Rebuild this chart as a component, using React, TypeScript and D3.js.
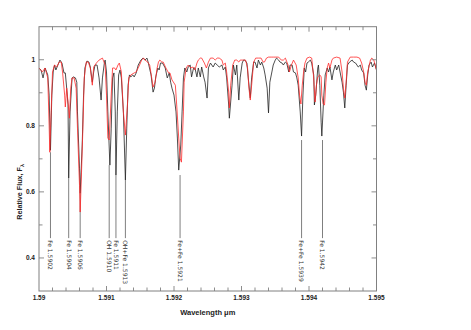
import React from 'react';
import * as d3 from 'd3';

// observed spectrum (black), [wavelength um, relative flux]
const observed: [number, number][] = [
  [1.59000, 0.974], [1.59003, 0.969], [1.59006, 0.945], [1.59009, 0.975], [1.59013, 0.954],
  [1.59015, 0.893], [1.59017, 0.726], [1.59019, 0.893], [1.59021, 0.963], [1.59023, 0.984],
  [1.59025, 0.969], [1.59028, 0.984], [1.59031, 0.999], [1.59034, 0.990], [1.59037, 0.960],
  [1.59039, 0.960], [1.59041, 0.914], [1.59043, 0.863], [1.59044, 0.642], [1.59046, 0.842],
  [1.59049, 0.945], [1.59051, 0.948], [1.59054, 0.945], [1.59056, 0.932], [1.59057, 0.842],
  [1.59060, 0.672], [1.59061, 0.596], [1.59064, 0.742], [1.59066, 0.893], [1.59068, 0.975],
  [1.59071, 0.996], [1.59074, 0.993], [1.59076, 0.978], [1.59079, 0.932], [1.59081, 0.963],
  [1.59083, 0.984], [1.59086, 0.984], [1.59089, 0.945], [1.59092, 0.878], [1.59094, 0.945],
  [1.59097, 0.993], [1.59098, 0.999], [1.59100, 0.963], [1.59102, 0.842], [1.59105, 0.681],
  [1.59107, 0.793], [1.59109, 0.945], [1.59111, 0.960], [1.59113, 0.842], [1.59114, 0.651],
  [1.59116, 0.842], [1.59118, 0.954], [1.59120, 0.969], [1.59122, 0.945], [1.59125, 0.842],
  [1.59128, 0.636], [1.59130, 0.793], [1.59132, 0.923], [1.59134, 0.954], [1.59136, 0.948],
  [1.59139, 0.954], [1.59141, 0.948], [1.59144, 0.960], [1.59147, 0.984], [1.59151, 0.999],
  [1.59154, 1.005], [1.59157, 0.999], [1.59160, 1.005], [1.59162, 0.990], [1.59166, 0.954],
  [1.59169, 0.902], [1.59171, 0.914], [1.59173, 0.948], [1.59176, 0.975], [1.59178, 0.969],
  [1.59180, 0.990], [1.59183, 0.990], [1.59187, 0.975], [1.59190, 0.945], [1.59193, 0.960],
  [1.59195, 0.932], [1.59197, 0.914], [1.59200, 0.893], [1.59203, 0.842], [1.59205, 0.763],
  [1.59207, 0.666], [1.59210, 0.742], [1.59212, 0.842], [1.59214, 0.945], [1.59216, 0.975],
  [1.59219, 0.963], [1.59221, 0.978], [1.59224, 0.984], [1.59226, 0.948], [1.59229, 0.975],
  [1.59231, 0.975], [1.59234, 0.948], [1.59236, 0.975], [1.59239, 0.948], [1.59241, 0.978],
  [1.59244, 0.948], [1.59246, 0.932], [1.59249, 0.884], [1.59251, 0.975], [1.59254, 0.990],
  [1.59256, 0.984], [1.59258, 0.978], [1.59261, 0.990], [1.59264, 0.984], [1.59267, 0.978],
  [1.59271, 0.984], [1.59273, 0.969], [1.59276, 0.978], [1.59278, 0.945], [1.59281, 0.863],
  [1.59282, 0.823], [1.59286, 0.923], [1.59288, 0.984], [1.59291, 0.954], [1.59293, 0.984],
  [1.59296, 0.878], [1.59298, 0.945], [1.59301, 0.990], [1.59303, 0.999], [1.59305, 0.999],
  [1.59308, 0.990], [1.59310, 0.945], [1.59313, 0.884], [1.59315, 0.945], [1.59318, 0.993],
  [1.59320, 0.993], [1.59323, 0.975], [1.59325, 0.999], [1.59328, 0.984], [1.59330, 0.993],
  [1.59333, 0.975], [1.59335, 0.954], [1.59338, 0.914], [1.59340, 0.839], [1.59342, 0.932],
  [1.59345, 0.963], [1.59347, 0.984], [1.59350, 0.999], [1.59352, 1.005], [1.59355, 0.999],
  [1.59357, 0.993], [1.59360, 0.990], [1.59362, 0.984], [1.59365, 0.993], [1.59367, 0.990],
  [1.59370, 0.963], [1.59372, 0.984], [1.59375, 0.984], [1.59377, 0.963], [1.59380, 0.960],
  [1.59382, 0.945], [1.59384, 0.923], [1.59387, 0.842], [1.59389, 0.769], [1.59391, 0.893],
  [1.59393, 0.975], [1.59395, 0.963], [1.59397, 0.990], [1.59399, 0.993], [1.59402, 0.999],
  [1.59404, 0.990], [1.59407, 0.954], [1.59408, 0.863], [1.59410, 0.893], [1.59413, 0.975],
  [1.59414, 0.984], [1.59416, 0.923], [1.59418, 0.811], [1.59419, 0.769], [1.59422, 0.893],
  [1.59424, 0.954], [1.59427, 0.975], [1.59429, 0.963], [1.59431, 0.978], [1.59434, 0.939],
  [1.59436, 0.963], [1.59439, 0.984], [1.59441, 0.969], [1.59444, 0.984], [1.59446, 0.963],
  [1.59449, 0.932], [1.59451, 0.902], [1.59453, 0.854], [1.59455, 0.923], [1.59457, 0.984],
  [1.59460, 0.993], [1.59464, 0.999], [1.59466, 0.993], [1.59469, 0.990], [1.59471, 0.984],
  [1.59473, 0.978], [1.59476, 0.984], [1.59478, 0.969], [1.59481, 0.960], [1.59483, 0.923],
  [1.59485, 0.908], [1.59487, 0.954], [1.59489, 0.984], [1.59492, 0.993], [1.59494, 0.978],
  [1.59497, 0.990], [1.59500, 0.969],
];

// synthetic spectrum (red)
const synthetic: [number, number][] = [
  [1.59000, 0.975], [1.59005, 0.963], [1.59009, 0.975], [1.59013, 0.945], [1.59015, 0.802],
  [1.59016, 0.720], [1.59018, 0.842], [1.59020, 0.963], [1.59023, 0.984], [1.59026, 0.978],
  [1.59030, 0.993], [1.59033, 0.993], [1.59035, 0.960], [1.59038, 0.893], [1.59039, 0.857],
  [1.59041, 0.914], [1.59043, 0.872], [1.59045, 0.823], [1.59047, 0.914], [1.59049, 0.945],
  [1.59052, 0.945], [1.59055, 0.914], [1.59057, 0.793], [1.59060, 0.620], [1.59061, 0.539],
  [1.59063, 0.660], [1.59065, 0.793], [1.59067, 0.945], [1.59070, 0.993], [1.59073, 0.993],
  [1.59076, 0.975], [1.59079, 0.923], [1.59081, 0.978], [1.59085, 0.990], [1.59089, 0.999],
  [1.59094, 1.005], [1.59098, 0.984], [1.59100, 0.893], [1.59102, 0.763], [1.59104, 0.757],
  [1.59107, 0.893], [1.59109, 0.975], [1.59112, 0.975], [1.59114, 0.969], [1.59117, 0.984],
  [1.59119, 0.990], [1.59122, 0.963], [1.59125, 0.842], [1.59128, 0.772], [1.59131, 0.863],
  [1.59133, 0.945], [1.59136, 0.954], [1.59141, 0.960], [1.59144, 0.963], [1.59149, 0.984],
  [1.59152, 0.999], [1.59155, 1.005], [1.59157, 0.999], [1.59161, 0.993], [1.59164, 0.984],
  [1.59167, 0.945], [1.59169, 0.917], [1.59172, 0.932], [1.59175, 0.975], [1.59177, 0.993],
  [1.59179, 0.999], [1.59182, 0.993], [1.59184, 0.993], [1.59188, 0.975], [1.59192, 0.960],
  [1.59194, 0.960], [1.59197, 0.939], [1.59202, 0.923], [1.59204, 0.863], [1.59207, 0.763],
  [1.59209, 0.702], [1.59211, 0.690], [1.59212, 0.742], [1.59214, 0.842], [1.59215, 0.932],
  [1.59218, 0.975], [1.59221, 0.984], [1.59225, 0.975], [1.59228, 0.978], [1.59231, 0.969],
  [1.59234, 0.990], [1.59236, 0.999], [1.59239, 1.005], [1.59241, 1.005], [1.59245, 0.990],
  [1.59248, 0.975], [1.59251, 0.993], [1.59254, 1.005], [1.59258, 1.005], [1.59261, 0.999],
  [1.59264, 1.005], [1.59267, 1.005], [1.59271, 0.999], [1.59273, 0.984], [1.59276, 0.990],
  [1.59278, 0.963], [1.59281, 0.902], [1.59282, 0.854], [1.59284, 0.923], [1.59287, 0.984],
  [1.59290, 0.999], [1.59293, 0.999], [1.59296, 0.993], [1.59298, 0.999], [1.59301, 0.999],
  [1.59304, 0.999], [1.59306, 0.999], [1.59309, 0.975], [1.59311, 0.914], [1.59313, 0.878],
  [1.59315, 0.923], [1.59318, 0.993], [1.59321, 1.005], [1.59325, 1.005], [1.59329, 1.005],
  [1.59332, 0.993], [1.59334, 0.993], [1.59337, 1.005], [1.59340, 1.008], [1.59344, 1.008],
  [1.59347, 1.008], [1.59351, 1.008], [1.59355, 1.008], [1.59359, 0.999], [1.59362, 0.999],
  [1.59365, 1.005], [1.59369, 0.984], [1.59371, 0.963], [1.59374, 0.984], [1.59377, 0.999],
  [1.59381, 0.984], [1.59384, 0.945], [1.59386, 0.893], [1.59388, 0.866], [1.59390, 0.923],
  [1.59392, 0.963], [1.59394, 0.990], [1.59397, 1.005], [1.59401, 1.008], [1.59404, 1.005],
  [1.59407, 0.945], [1.59409, 0.872], [1.59411, 0.923], [1.59413, 0.948], [1.59416, 0.954],
  [1.59418, 0.948], [1.59419, 0.893], [1.59421, 0.866], [1.59423, 0.863], [1.59425, 0.932],
  [1.59427, 0.975], [1.59429, 0.990], [1.59431, 0.975], [1.59434, 0.999], [1.59436, 1.005],
  [1.59441, 1.008], [1.59446, 1.005], [1.59449, 0.963], [1.59451, 0.914], [1.59453, 0.884],
  [1.59455, 0.932], [1.59457, 0.993], [1.59461, 1.008], [1.59466, 1.008], [1.59471, 1.008],
  [1.59475, 1.005], [1.59478, 0.990], [1.59481, 0.963], [1.59483, 0.932], [1.59485, 0.923],
  [1.59487, 0.963], [1.59491, 0.999], [1.59493, 1.005], [1.59496, 0.999], [1.59498, 0.984],
  [1.59500, 0.969],
];

// line identifications
const lineWaves = [1.59017, 1.59044, 1.59061, 1.59104, 1.59114, 1.59128, 1.59209, 1.59389, 1.59420];
const lineTops = [0.72, 0.642, 0.596, 0.681, 0.651, 0.636, 0.651, 0.757, 0.757];
const lineLabels = [
  'Fe 1.5902', 'Fe 1.5904', 'Fe 1.5906', 'OH 1.5910', 'Fe 1.5911',
  'OH+Fe 1.5913', 'Fe+Fe 1.5921', 'Fe+Fe 1.5939', 'Fe 1.5942',
];
const lineBottom = 0.46;

const xTickLabels = ['1.59', '1.591', '1.592', '1.593', '1.594', '1.595'];
const yTickLabels = ['0.4', '0.6', '0.8', '1'];

const W = 471;
const H = 330;
const margin = { top: 26.7, right: 94.5, bottom: 39, left: 39 };

export default function App() {
  const x = d3.scaleLinear().domain([1.59, 1.595]).range([margin.left, W - margin.right]);
  const y = d3.scaleLinear().domain([0.3, 1.1]).range([H - margin.bottom, margin.top]);
  const line = d3.line<[number, number]>().x(d => x(d[0])).y(d => y(d[1]));

  const x0 = x.range()[0], x1 = x.range()[1];
  const y0 = y.range()[0], y1 = y.range()[1];

  const xMinor = d3.range(1, 25).map(i => 1.59 + i * 0.0002);
  const yMinor = d3.range(1, 8).map(i => 0.3 + i * 0.1);
  const axisColor = '#808080';
  const font = 'Liberation Sans, Arial, sans-serif';

  return (
    <svg width={W} height={H} style={{ position: 'absolute', left: 0, top: 0, background: '#fff' }}>
      <defs>
        <clipPath id="plot">
          <rect x={x0} y={y1} width={x1 - x0} height={y0 - y1} />
        </clipPath>
      </defs>

      {/* identification markers */}
      {lineWaves.map((w, i) => (
        <g key={lineLabels[i]}>
          <line x1={x(w)} x2={x(w)} y1={y(lineTops[i])} y2={y(lineBottom)} stroke="#707070" strokeWidth={0.9} />
          <text
            transform={`translate(${x(w)},${y(lineBottom) + 2}) rotate(90)`}
            dy="0.35em"
            fontSize={6}
            fontFamily="DejaVu Sans, sans-serif"
            fill="#333"
          >
            {lineLabels[i]}
          </text>
        </g>
      ))}

      <g clipPath="url(#plot)" fill="none">
        <path d={line(observed) || ''} stroke="#222" strokeWidth={0.8} />
        <path d={line(synthetic) || ''} stroke="#ff2a2a" strokeWidth={0.8} />
      </g>

      {/* frame */}
      <rect x={x0} y={y1} width={x1 - x0} height={y0 - y1} fill="none" stroke={axisColor} strokeWidth={1} />

      {xMinor.map(t => {
        const major = Math.abs(t * 1000 - Math.round(t * 1000)) < 1e-6;
        const len = major ? 5 : 3.5;
        return (
          <g key={t} stroke={axisColor} strokeWidth={0.9}>
            <line x1={x(t)} x2={x(t)} y1={y0} y2={y0 - len} />
            <line x1={x(t)} x2={x(t)} y1={y1} y2={y1 + len} />
          </g>
        );
      })}
      {yMinor.map(t => {
        const major = Math.abs(t * 5 - Math.round(t * 5)) < 1e-6;
        const len = major ? 5 : 3.5;
        return (
          <g key={t} stroke={axisColor} strokeWidth={0.9}>
            <line x1={x0} x2={x0 + len} y1={y(t)} y2={y(t)} />
            <line x1={x1} x2={x1 - len} y1={y(t)} y2={y(t)} />
          </g>
        );
      })}

      {xTickLabels.map(l => (
        <text key={l} x={x(+l)} y={y0 + 9} textAnchor="middle" fontSize={6.5} fontWeight="bold" fontFamily={font} fill="#222">
          {l}
        </text>
      ))}
      {yTickLabels.map(l => (
        <text key={l} x={x0 - 4} y={y(+l)} dy="0.35em" textAnchor="end" fontSize={6.5} fontWeight="bold" fontFamily={font} fill="#222">
          {l}
        </text>
      ))}

      <text x={(x0 + x1) / 2} y={y0 + 24} textAnchor="middle" fontSize={7.5} fontWeight="bold" fontFamily={font} fill="#222">
        Wavelength μm
      </text>
      <text transform={`translate(22,${y(0.6)}) rotate(-90)`} textAnchor="middle" fontSize={7.2} fontWeight="bold" fontFamily={font} fill="#222">
        Relative Flux, F<tspan fontSize={5.5} dy={2}>λ</tspan>
      </text>
    </svg>
  );
}
